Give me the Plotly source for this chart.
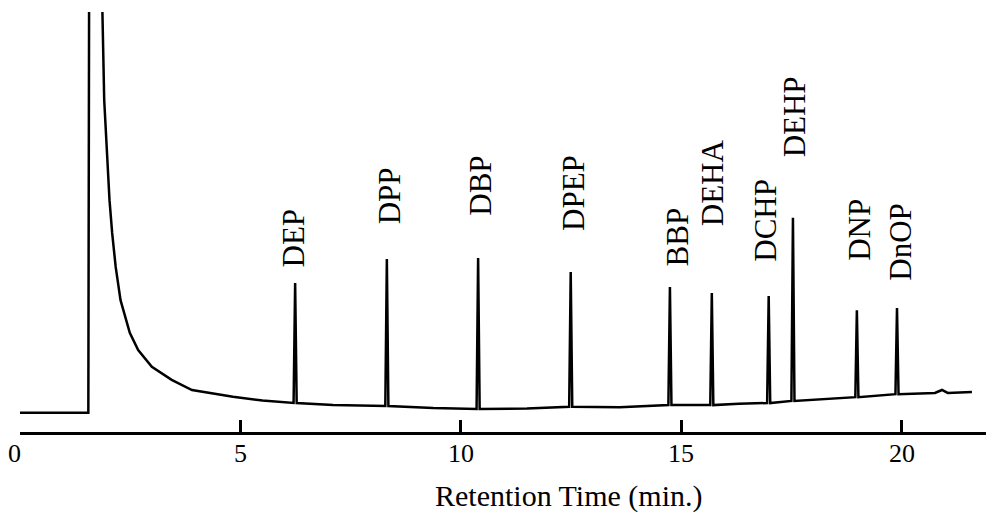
import numpy as np
import plotly.graph_objects as go

# ---------------- data ----------------
# baseline / solvent-front knots (retention time in min, detector response in % full scale)
baseline_time = [0.0, 1.55, 1.57, 1.83, 1.91, 2.03, 2.09, 2.17, 2.28, 2.49, 2.68, 2.99,
                 3.44, 3.90, 4.83, 5.50, 7.10, 9.37, 11.50, 13.60, 16.30, 18.30,
                 20.75, 20.91, 21.04, 21.59]
baseline_signal = [4.6, 4.6, 120.0, 120.0, 79.0, 55.2, 47.4, 39.3, 31.4, 23.6, 19.5, 15.5,
                   12.4, 10.0, 8.4, 7.5, 6.4, 5.7, 5.6, 5.9, 6.7, 7.8,
                   9.3, 10.0, 9.3, 9.5]

# analyte peaks
peak_names = ["DEP", "DPP", "DBP", "DPEP", "BBP", "DEHA", "DCHP", "DEHP", "DNP", "DnOP"]
peak_time = [6.24, 8.32, 10.39, 12.49, 14.74, 15.69, 16.98, 17.53, 18.98, 19.89]
peak_apex = [35.5, 41.2, 41.4, 38.1, 34.5, 33.1, 32.4, 51.0, 29.0, 29.5]
peak_base = [6.9, 6.2, 5.5, 6.0, 6.4, 6.4, 6.9, 7.4, 8.3, 9.0]

tick_values = [0, 5, 10, 15, 20]
tick_labels = ["0", "5", "10", "15", "20"]
x_title = "Retention Time (min.)"

# ---------------- build the trace ----------------
half_width = 0.035  # peak foot half-width (shape styling)
pts = list(zip(baseline_time, baseline_signal))
for t, a, b in zip(peak_time, peak_apex, peak_base):
    pts += [(t - half_width, b), (t, a), (t + half_width, b)]
pts.sort(key=lambda p: p[0])
xs = [p[0] for p in pts]
ys = [p[1] for p in pts]

fig = go.Figure()
fig.add_trace(go.Scatter(x=xs, y=ys, mode="lines",
                         line=dict(color="black", width=2.5),
                         hoverinfo="skip", showlegend=False))

# label placement (bottom of rotated label, in response units)
label_bottom = [39.0, 49.3, 51.2, 47.6, 39.3, 48.8, 40.2, 65.2, 40.5, 35.7]
label_x = [6.21, 8.39, 10.45, 12.54, 14.90, 15.71, 16.92, 17.57, 19.05, 19.95]

serif = "Liberation Serif, Times New Roman, serif"
for name, lx, ly in zip(peak_names, label_x, label_bottom):
    fig.add_annotation(x=lx, y=ly, xref="x", yref="y", text=name, showarrow=False,
                       textangle=-90, xanchor="center", yanchor="bottom",
                       borderpad=0, font=dict(family=serif, size=31, color="black"))

# tick labels drawn as text just under the axis line
for tv, tl in zip(tick_values, tick_labels):
    fig.add_annotation(x=tv, y=-0.05, xref="x", yref="paper", text=tl, showarrow=False,
                       xanchor="center", yanchor="middle", xshift=(-6 if tv == 0 else 0),
                       font=dict(family=serif, size=26, color="black"))

fig.add_annotation(x=12.45, y=-0.152, xref="x", yref="paper", text=x_title,
                   showarrow=False, xanchor="center", yanchor="middle",
                   font=dict(family=serif, size=30, color="black"))

# page body has an 8px default margin: figure sized/offset to compensate
fig.update_layout(
    width=986, height=505,
    margin=dict(l=12, r=0, t=4, b=81),
    plot_bgcolor="white", paper_bgcolor="white",
    xaxis=dict(range=[0, 22.09], tickvals=tick_values, showticklabels=False,
               showline=True, linewidth=3, linecolor="black",
               ticks="inside", ticklen=12, tickwidth=3, tickcolor="black",
               showgrid=False, zeroline=False),
    yaxis=dict(range=[0, 100], visible=False),
)

fig.write_html("out.html")
